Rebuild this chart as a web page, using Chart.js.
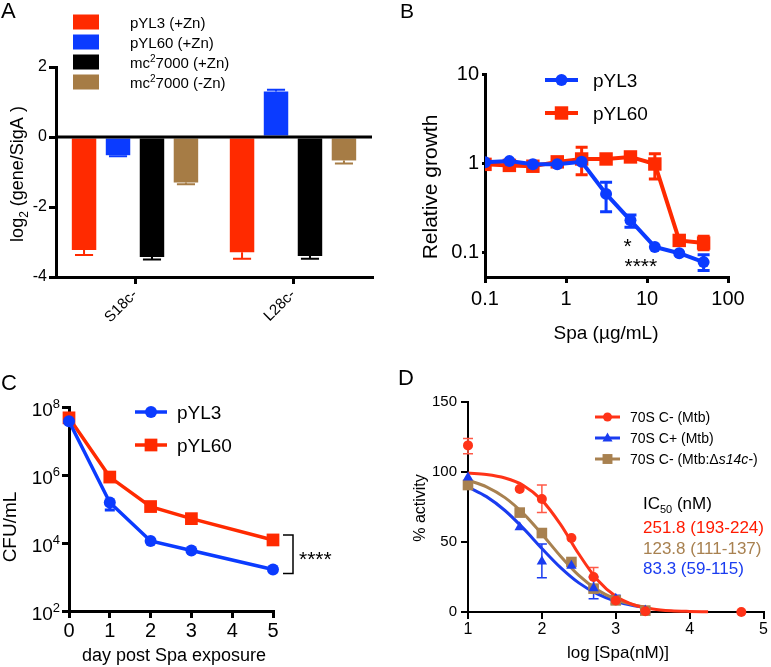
<!DOCTYPE html>
<html><head><meta charset="utf-8">
<script src="https://cdn.jsdelivr.net/npm/chart.js@4/dist/chart.umd.min.js"></script>
<style>
html,body{margin:0;padding:0;background:#fff;}
#wrap{position:relative;width:771px;height:667px;background:#fff;}
canvas{position:absolute;left:0;top:0;}
</style>
</head><body><div id="wrap">
<canvas id="cA" width="771" height="667"></canvas>
<canvas id="cB" width="771" height="667"></canvas>
<canvas id="cC" width="771" height="667"></canvas>
<canvas id="cD" width="771" height="667"></canvas>
</div>
<script>
// ---------- Panel A data ----------
const aCategories = ['S18c-', 'L28c-'];
const aPyl3 = [-3.23, -3.29];     const aPyl3Err = [0.14, 0.19];
const aPyl60 = [-0.52, 1.30];     const aPyl60Err = [0.03, 0.05];
const aMcZn = [-3.43, -3.40];     const aMcZnErr = [0.07, 0.08];
const aMcNoZn = [-1.30, -0.67];   const aMcNoZnErr = [0.05, 0.09];
const aYTicks = [-4, -2, 0, 2];

// ---------- Panel B data ----------
const bDose = [0.1, 0.2, 0.39, 0.78, 1.56, 3.125, 6.25, 12.5, 25, 50];
const bPyl3 = [1.02, 1.05, 0.97, 0.97, 1.03, 0.45, 0.227, 0.114, 0.097, 0.077];
const bPyl3Lo = [null, null, null, null, null, 0.284, 0.19, null, null, 0.062];
const bPyl3Hi = [null, null, null, null, null, 0.606, 0.26, null, null, 0.093];
const bPyl60 = [0.966, 0.94, 0.92, 1.03, 1.11, 1.11, 1.17, 0.975, 0.135, 0.126];
const bPyl60Lo = [null, null, null, null, 0.74, null, null, 0.66, 0.12, 0.106];
const bPyl60Hi = [null, null, null, null, 1.5, null, null, 1.27, 0.14, 0.15];
const bXTicks = [0.1, 1, 10, 100];
const bYTicks = [0.1, 1, 10];

// ---------- Panel C data ----------
const cDay = [0, 1, 2, 3, 5];
const cPyl3 = [3.8e7, 1.55e5, 1.15e4, 6.0e3, 1.66e3];
const cPyl3Lo = [null, 9.3e4, null, null, null];
const cPyl60 = [4.8e7, 8.7e5, 1.18e5, 5.2e4, 1.23e4];
const cXTicks = [0, 1, 2, 3, 4, 5];
const cYTicks = [1e2, 1e4, 1e6, 1e8];
const cYExp = ['2', '4', '6', '8'];

// ---------- Panel D data ----------
const dLogDose = [1, 1.7, 2, 2.4, 2.7, 3, 3.4, 4.7];
const dRed = [119, 87.9, 80.7, 52.9, 25, 8.3, 0.5, 0];
const dRedLo = [113, null, 71, null, 18, 5.5, null, null];
const dRedHi = [124, null, 90.7, null, 31.7, 11, null, null];
const dBlue = [96, 60.5, 36, 33, 17, 9.5, 1];
const dBlueLo = [null, null, 24.5, null, 9.5, 6, null];
const dBlueHi = [null, null, 48.6, null, 25, 12, null];
const dBrown = [90.7, 71, 56.4, 35.7, 16.7, 8.3, 1];
const dCurveX = [1, 1.25, 1.5, 1.75, 2, 2.25, 2.5, 2.75, 3, 3.25, 3.5, 3.75, 4, 4.25];
const dRedCurve = [99.2, 98.2, 95.7, 90.4, 79.9, 62.7, 41.4, 23.0, 11.2, 5.0, 2.2, 0.9, 0.4, 0.15];
const dShortCurveX = [1, 1.25, 1.5, 1.75, 2, 2.25, 2.5, 2.75, 3, 3.25, 3.4];
const dBlueCurve = [89.3, 82.4, 72.5, 59.7, 45.4, 31.9, 20.8, 12.9, 7.7, 4.5, 3.2];
const dBrownCurve = [94.1, 89.4, 81.7, 70.3, 55.7, 40.0, 26.1, 15.8, 9.1, 5.0, 3.5];
const dYTicks = [0, 50, 100, 150];
const dXTicks = [1, 2, 3, 4, 5];
const dIC50 = ['251.8 (193-224)', '123.8 (111-137)', '83.3 (59-115)'];

// ---------- styling ----------
const RED = '#FF2A00', BLUE = '#0B3BFF', BLACK = '#000000', BROWN = '#A67C45';
const DRED = '#FF3318', DBLUE = '#1A3CF0', DBROWN = '#A88150';
const FAM = '"Liberation Sans", Arial, Helvetica, sans-serif';
const F = (s, st) => `${st || ''} ${s}px ${FAM}`;
const W = 771, H = 667;
Chart.defaults.font.family = FAM;
Chart.defaults.color = '#000';

function rich(ctx, parts, x, y, align) {
  ctx.save();
  ctx.textBaseline = 'alphabetic'; ctx.textAlign = 'left';
  let w = 0;
  parts.forEach(p => { ctx.font = p.f; w += ctx.measureText(p.t).width; });
  let cx = align === 'center' ? x - w / 2 : align === 'right' ? x - w : x;
  parts.forEach(p => {
    ctx.font = p.f; ctx.fillStyle = p.c || '#000';
    ctx.fillText(p.t, cx, y + (p.dy || 0));
    cx += ctx.measureText(p.t).width;
  });
  ctx.restore();
}
function vrich(ctx, parts, cx, cy, size) {
  ctx.save(); ctx.translate(cx, cy); ctx.rotate(-Math.PI / 2);
  rich(ctx, parts, 0, size * 0.35, 'center');
  ctx.restore();
}
function marker(ctx, style, x, y, r, color) {
  ctx.save(); ctx.fillStyle = color; ctx.beginPath();
  if (style === 'circle') ctx.arc(x, y, r, 0, Math.PI * 2);
  else if (style === 'rect') { const s = r * Math.SQRT1_2; ctx.rect(x - s, y - s, 2 * s, 2 * s); }
  else if (style === 'triangle') { ctx.moveTo(x, y - r * 1.1); ctx.lineTo(x + r, y + r * 0.7); ctx.lineTo(x - r, y + r * 0.7); ctx.closePath(); }
  ctx.fill(); ctx.restore();
}
function lineLegend(ctx, x1, x2, y, color, lw, style, r) {
  ctx.save(); ctx.strokeStyle = color; ctx.lineWidth = lw;
  ctx.beginPath(); ctx.moveTo(x1, y); ctx.lineTo(x2, y); ctx.stroke(); ctx.restore();
  marker(ctx, style, (x1 + x2) / 2, y, r, color);
}
function axis(width, tickLen, extra) {
  return Object.assign({
    border: { display: true, color: '#000', width: width },
    grid: { display: true, drawOnChartArea: false, drawTicks: true, tickLength: tickLen, tickWidth: width, tickColor: '#000', color: '#000', lineWidth: width }
  }, extra || {});
}
const fitY = w => s => { s.width = w; s.paddingTop = 0; s.paddingBottom = 0; };
const fitX = h => s => { s.height = h; s.paddingLeft = 0; s.paddingRight = 0; };
const setTicks = arr => s => { s.ticks = arr.map(v => ({ value: v })); };
const base = (pad) => ({
  responsive: false, animation: false, events: [],
  layout: { padding: pad },
  plugins: { legend: { display: false }, tooltip: { enabled: false } }
});

// error bar plugin for xy charts
const xyErr = {
  id: 'xyErr',
  beforeDatasetsDraw(chart) {
    const ctx = chart.ctx;
    chart.data.datasets.forEach((ds, i) => {
      if (!ds.errLo) return;
      const xs = chart.scales.x, ys = chart.scales.y;
      ds.data.forEach((p, j) => {
        const lo = ds.errLo[j], hi = ds.errHi ? ds.errHi[j] : null;
        if (lo == null && hi == null) return;
        const x = xs.getPixelForValue(p.x);
        const y0 = ys.getPixelForValue(p.y);
        const yl = lo != null ? ys.getPixelForValue(lo) : y0;
        const yh = hi != null ? ys.getPixelForValue(hi) : y0;
        ctx.save(); ctx.strokeStyle = ds.errColor || ds.borderColor; ctx.lineWidth = ds.errWidth || 2;
        ctx.beginPath(); ctx.moveTo(x, yl); ctx.lineTo(x, yh);
        const c = ds.capHalf || 6;
        if (lo != null) { ctx.moveTo(x - c, yl); ctx.lineTo(x + c, yl); }
        if (hi != null) { ctx.moveTo(x - c, yh); ctx.lineTo(x + c, yh); }
        ctx.stroke(); ctx.restore();
      });
    });
  }
};

// ================= Panel A =================
const aSeries = [
  { label: 'pYL3 (+Zn)', data: aPyl3, err: aPyl3Err, color: RED },
  { label: 'pYL60 (+Zn)', data: aPyl60, err: aPyl60Err, color: BLUE },
  { label: 'mc27000 (+Zn)', data: aMcZn, err: aMcZnErr, color: BLACK },
  { label: 'mc27000 (-Zn)', data: aMcNoZn, err: aMcNoZnErr, color: BROWN }
];
const aLegendParts = [
  [{ t: 'pYL3 (+Zn)', f: F(15) }],
  [{ t: 'pYL60 (+Zn)', f: F(15) }],
  [{ t: 'mc', f: F(15) }, { t: '2', f: F(10), dy: -6 }, { t: '7000 (+Zn)', f: F(15) }],
  [{ t: 'mc', f: F(15) }, { t: '2', f: F(10), dy: -6 }, { t: '7000 (-Zn)', f: F(15) }]
];
new Chart(document.getElementById('cA'), {
  type: 'bar',
  data: {
    labels: aCategories,
    datasets: aSeries.map(s => ({ label: s.label, data: s.data, err: s.err, backgroundColor: s.color, borderWidth: 0 }))
  },
  options: Object.assign(base({ left: 6, top: 67, right: W - 372, bottom: H - 277 - 55 }), {
    datasets: { bar: { categoryPercentage: 0.86, barPercentage: 0.72 } },
    scales: {
      x: axis(3, 7, {
        offset: true,
        ticks: { color: '#000', font: { size: 15 }, minRotation: 45, maxRotation: 45, autoSkip: false, padding: 2 },
        afterFit: fitX(55)
      }),
      y: axis(3, 7, {
        min: -4, max: 2,
        afterBuildTicks: setTicks(aYTicks),
        ticks: { color: '#000', font: { size: 16 }, padding: 2 },
        afterFit: fitY(50)
      })
    }
  }),
  plugins: [{
    id: 'aDraw',
    beforeInit(chart) { chart.options.scales.x.grid.offset = false; },
    afterDatasetsDraw(chart) {
      const ctx = chart.ctx, ys = chart.scales.y, a = chart.chartArea;
      // zero line
      const y0 = ys.getPixelForValue(0);
      ctx.save(); ctx.strokeStyle = '#000'; ctx.lineWidth = 3;
      ctx.beginPath(); ctx.moveTo(a.left, y0); ctx.lineTo(a.right, y0); ctx.stroke(); ctx.restore();
      // error bars
      chart.data.datasets.forEach((ds, i) => {
        chart.getDatasetMeta(i).data.forEach((el, j) => {
          const v = ds.data[j], sgn = v < 0 ? -1 : 1;
          const yE = ys.getPixelForValue(v + sgn * ds.err[j]);
          const c = el.width * 0.37;
          ctx.save(); ctx.strokeStyle = ds.backgroundColor; ctx.lineWidth = 2;
          ctx.beginPath(); ctx.moveTo(el.x, el.y); ctx.lineTo(el.x, yE);
          ctx.moveTo(el.x - c, yE); ctx.lineTo(el.x + c, yE); ctx.stroke(); ctx.restore();
        });
      });
    },
    afterDraw(chart) {
      const ctx = chart.ctx;
      aSeries.forEach((s, i) => {
        const yc = 22 + i * 20;
        ctx.fillStyle = s.color; ctx.fillRect(73, yc - 7.5, 26, 15);
        rich(ctx, aLegendParts[i], 130, yc + 5.5, 'left');
      });
      vrich(ctx, [{ t: 'log', f: F(18) }, { t: '2', f: F(12), dy: 5 }, { t: ' (gene/SigA )', f: F(18) }], 17, 174, 18);
      rich(ctx, [{ t: 'A', f: F(22) }], 1, 18, 'left');
    }
  }]
});

// ================= Panel B =================
new Chart(document.getElementById('cB'), {
  type: 'line',
  data: {
    datasets: [
      { label: 'pYL3', data: bDose.map((x, i) => ({ x, y: bPyl3[i] })), errLo: bPyl3Lo, errHi: bPyl3Hi,
        borderColor: BLUE, backgroundColor: BLUE, borderWidth: 4, pointStyle: 'circle', pointRadius: 6, pointBorderWidth: 0, errWidth: 3, capHalf: 6 },
      { label: 'pYL60', data: bDose.map((x, i) => ({ x, y: bPyl60[i] })), errLo: bPyl60Lo, errHi: bPyl60Hi,
        borderColor: RED, backgroundColor: RED, borderWidth: 4, pointStyle: 'rect', pointRadius: 9.5, pointBorderWidth: 0, errWidth: 3, capHalf: 6 }
    ]
  },
  options: Object.assign(base({ left: 485 - 60, top: 74, right: W - 728, bottom: H - 277 - 50 }), {
    scales: {
      x: axis(3, 6, {
        type: 'logarithmic', min: 0.1, max: 100,
        afterBuildTicks: setTicks(bXTicks),
        ticks: { color: '#000', font: { size: 20 }, padding: 4, autoSkip: false, callback: v => String(v) },
        afterFit: fitX(50)
      }),
      y: axis(3, 3, {
        type: 'logarithmic', min: 0.0524, max: 10,
        afterBuildTicks: setTicks(bYTicks),
        ticks: { color: '#000', font: { size: 20 }, padding: 3, autoSkip: false, callback: v => String(v) },
        afterFit: fitY(60)
      })
    }
  }),
  plugins: [xyErr, {
    id: 'bDraw',
    afterDraw(chart) {
      const ctx = chart.ctx;
      lineLegend(ctx, 545, 578, 80, BLUE, 4, 'circle', 6);
      lineLegend(ctx, 545, 578, 113, RED, 4, 'rect', 9.5);
      rich(ctx, [{ t: 'pYL3', f: F(19) }], 593, 87, 'left');
      rich(ctx, [{ t: 'pYL60', f: F(19) }], 593, 120, 'left');
      vrich(ctx, [{ t: 'Relative growth', f: F(21) }], 430, 187, 21);
      rich(ctx, [{ t: 'Spa (µg/mL)', f: F(19) }], 606, 339, 'center');
      rich(ctx, [{ t: 'B', f: F(21) }], 400, 18, 'left');
      const m = chart.getDatasetMeta(0).data;
      rich(ctx, [{ t: '*', f: F(21) }], m[6].x - 3, m[6].y + 33, 'center');
      rich(ctx, [{ t: '****', f: F(21) }], m[7].x - 14, m[7].y + 26, 'center');
    }
  }]
});

// ================= Panel C =================
new Chart(document.getElementById('cC'), {
  type: 'line',
  data: {
    datasets: [
      { label: 'pYL3', data: cDay.map((x, i) => ({ x, y: cPyl3[i] })), errLo: cPyl3Lo,
        borderColor: BLUE, backgroundColor: BLUE, borderWidth: 3.5, pointStyle: 'circle', pointRadius: 6, pointBorderWidth: 0, errWidth: 3, capHalf: 5 },
      { label: 'pYL60', data: cDay.map((x, i) => ({ x, y: cPyl60[i] })),
        borderColor: RED, backgroundColor: RED, borderWidth: 3.5, pointStyle: 'rect', pointRadius: 9, pointBorderWidth: 0 }
    ]
  },
  options: Object.assign(base({ left: 69 - 50, top: 407, right: W - 273, bottom: H - 611 - 45 }), {
    clip: false,
    scales: {
      x: axis(3, 7, {
        type: 'linear', min: 0, max: 5,
        afterBuildTicks: setTicks(cXTicks),
        ticks: { color: '#000', font: { size: 20 }, padding: 1 },
        afterFit: fitX(45)
      }),
      y: axis(3, 7, {
        type: 'logarithmic', min: 100, max: 1e8,
        afterBuildTicks: setTicks(cYTicks),
        ticks: { callback: () => '', autoSkip: false },
        afterFit: fitY(50)
      })
    }
  }),
  plugins: [xyErr, {
    id: 'cDraw',
    afterDraw(chart) {
      const ctx = chart.ctx, ys = chart.scales.y;
      cYTicks.forEach((v, i) => {
        const y = ys.getPixelForValue(v);
        rich(ctx, [{ t: '10', f: F(19) }, { t: cYExp[i], f: F(13), dy: -8 }], 60, y + 9, 'right');
      });
      lineLegend(ctx, 135, 167, 412, BLUE, 3.5, 'circle', 6);
      lineLegend(ctx, 135, 167, 445, RED, 3.5, 'rect', 9);
      rich(ctx, [{ t: 'pYL3', f: F(19) }], 177, 419, 'left');
      rich(ctx, [{ t: 'pYL60', f: F(19) }], 177, 452, 'left');
      vrich(ctx, [{ t: 'CFU/mL', f: F(19) }], 9, 527, 19);
      rich(ctx, [{ t: 'day post Spa exposure', f: F(18) }], 174, 661, 'center');
      rich(ctx, [{ t: 'C', f: F(22) }], 1, 390, 'left');
      // significance bracket
      const r = chart.getDatasetMeta(1).data[4], b = chart.getDatasetMeta(0).data[4];
      const bx = r.x + 20, t = r.y - 5, bt = b.y + 4;
      ctx.save(); ctx.strokeStyle = '#000'; ctx.lineWidth = 1.5;
      ctx.beginPath(); ctx.moveTo(bx - 10, t); ctx.lineTo(bx, t); ctx.lineTo(bx, bt); ctx.lineTo(bx - 10, bt); ctx.stroke(); ctx.restore();
      rich(ctx, [{ t: '****', f: F(21) }], bx + 6, (t + bt) / 2 + 12, 'left');
    }
  }]
});

// ================= Panel D =================
const curve = (xs, ys, color) => ({ data: xs.map((x, i) => ({ x, y: ys[i] })), showLine: true, borderColor: color, borderWidth: 3, pointRadius: 0, cubicInterpolationMode: 'monotone', fill: false });
const pts = (ys, lo, hi, color, style, r) => ({ data: ys.map((y, i) => ({ x: dLogDose[i], y })), errLo: lo, errHi: hi, showLine: false, backgroundColor: color, borderColor: color, pointStyle: style, pointRadius: r, pointBorderWidth: 0, errWidth: 1.5, capHalf: 5 });
new Chart(document.getElementById('cD'), {
  type: 'scatter',
  data: {
    datasets: [
      Object.assign(pts(dRed, dRedLo, dRedHi, DRED, 'circle', 5), { errColor: '#FF5A48' }),
      pts(dBlue, dBlueLo, dBlueHi, DBLUE, 'triangle', 6),
      pts(dBrown, null, null, DBROWN, 'rect', 7.5),
      curve(dCurveX, dRedCurve, DRED),
      curve(dShortCurveX, dBrownCurve, DBROWN),
      curve(dShortCurveX, dBlueCurve, DBLUE)
    ]
  },
  options: Object.assign(base({ left: 468 - 50, top: 402, right: W - 767, bottom: H - 612 - 40 }), {
    clip: false,
    scales: {
      x: axis(2, 7, {
        type: 'linear', min: 1, max: 5,
        afterBuildTicks: setTicks(dXTicks),
        ticks: { color: '#000', font: { size: 16 }, padding: 1 },
        afterFit: fitX(40)
      }),
      y: axis(2, 7, {
        type: 'linear', min: 0, max: 150,
        afterBuildTicks: setTicks(dYTicks),
        ticks: { color: '#000', font: { size: 15 }, padding: 4 },
        afterFit: fitY(50)
      })
    }
  }),
  plugins: [xyErr, {
    id: 'dDraw',
    afterDraw(chart) {
      const ctx = chart.ctx;
      lineLegend(ctx, 595, 620, 417, DRED, 3, 'circle', 4.5);
      lineLegend(ctx, 595, 620, 438, DBLUE, 3, 'triangle', 5);
      lineLegend(ctx, 595, 620, 459, DBROWN, 3, 'rect', 7);
      rich(ctx, [{ t: '70S C- (Mtb)', f: F(14) }], 630, 422, 'left');
      rich(ctx, [{ t: '70S C+ (Mtb)', f: F(14) }], 630, 443, 'left');
      rich(ctx, [{ t: '70S C- (Mtb:Δ', f: F(14) }, { t: 's14c-', f: F(14, 'italic') }, { t: ')', f: F(14) }], 630, 464, 'left');
      rich(ctx, [{ t: 'IC', f: F(17) }, { t: '50', f: F(11), dy: 4 }, { t: ' (nM)', f: F(17) }], 643, 509, 'left');
      rich(ctx, [{ t: dIC50[0], f: F(17), c: '#FF1A00' }], 643, 533, 'left');
      rich(ctx, [{ t: dIC50[1], f: F(17), c: DBROWN }], 643, 554, 'left');
      rich(ctx, [{ t: dIC50[2], f: F(17), c: DBLUE }], 643, 574, 'left');
      vrich(ctx, [{ t: '% activity', f: F(16) }], 419, 508, 16);
      rich(ctx, [{ t: 'log [Spa(nM)]', f: F(17) }], 618, 658, 'center');
      rich(ctx, [{ t: 'D', f: F(22) }], 398, 385, 'left');
    }
  }]
});
</script>
</body></html>
